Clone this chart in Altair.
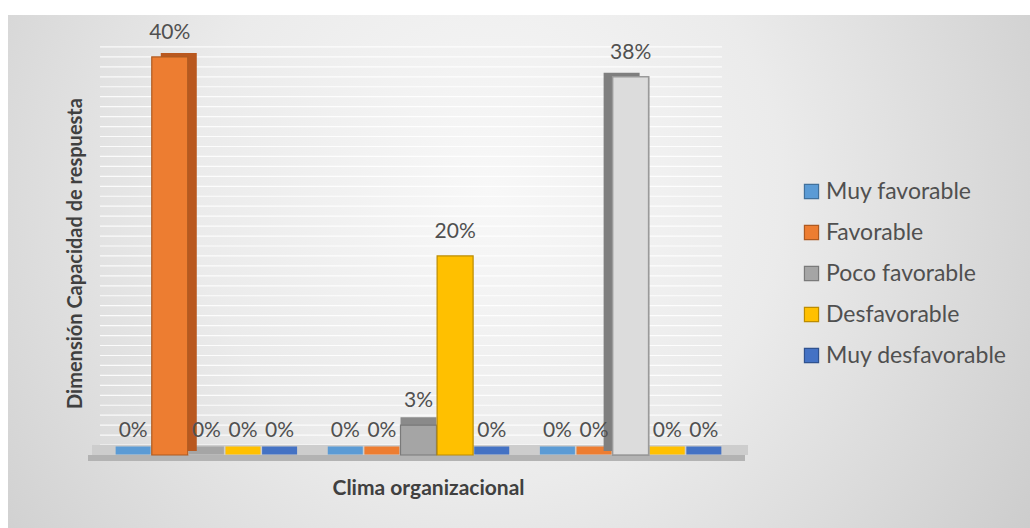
import altair as alt
import pandas as pd

# ---- data ----
grupos = ["1", "2", "3"]
series = ["Muy favorable", "Favorable", "Poco favorable", "Desfavorable", "Muy desfavorable"]
muy_favorable = [0.00, 0.00, 0.00]
favorable = [0.40, 0.00, 0.00]
poco_favorable = [0.00, 0.03, 0.38]
desfavorable = [0.00, 0.20, 0.00]
muy_desfavorable = [0.00, 0.00, 0.00]
lineas_guia = [i / 100 for i in range(1, 42)]

colores = ["#5B9BD5", "#ED7D31", "#A5A5A5", "#FFC000", "#4472C4"]
bordes = ["#41719C", "#AE5A21", "#7A7A7A", "#BC8C00", "#2F528F"]

valores = [muy_favorable, favorable, poco_favorable, desfavorable, muy_desfavorable]
rows = []
for s, vals in zip(series, valores):
    for g, v in zip(grupos, vals):
        rows.append({"grupo": g, "serie": s, "valor": v})
df = pd.DataFrame(rows)

W, H = 637, 418
FONT = "Lato"
TXT = "#505050"

x_scale = alt.Scale(paddingInner=0.137, paddingOuter=0.07)
x_enc = alt.X("grupo:N", sort=grupos, scale=x_scale,
              axis=alt.Axis(labels=False, ticks=False, domain=False, grid=False,
                            title="Clima organizacional", titleFont=FONT,
                            titleFontSize=21, titleFontWeight="bold", titleColor="#404040",
                            titleX=328, titleAlign="center",
                            titleY=22, titleBaseline="top", zindex=1))
xo_enc = alt.XOffset("serie:N", sort=series, scale=alt.Scale(paddingInner=0, paddingOuter=0))
y_scale = alt.Scale(domain=[0, 0.42], nice=False)
y_axis = alt.Axis(labels=False, ticks=False, domain=False, grid=False,
                  title="Dimensión Capacidad de respuesta",
                  titleFont=FONT, titleFontSize=20, titleFontWeight="bold",
                  titleColor="#404040", titleAngle=270, titleX=-25, titleY=216,
                  titleAlign="center", titleBaseline="middle", zindex=1)

color_enc = alt.Color("serie:N", sort=series, scale=alt.Scale(domain=series, range=colores),
                      legend=alt.Legend(title=None, orient="none", legendX=700, legendY=143,
                                        symbolType="square", symbolSize=200,
                                        symbolStrokeWidth=1.2, labelFont=FONT,
                                        labelFontSize=23, labelColor=TXT, labelLimit=400,
                                        rowPadding=17, labelOffset=3, zindex=2))
stroke_enc = alt.Stroke("serie:N", sort=series, scale=alt.Scale(domain=series, range=bordes),
                        legend=None)

base = alt.Chart(df)

# background (decorative)
bg = alt.Chart(pd.DataFrame({"k": [0]})).mark_rect(
    fill=alt.RadialGradient(gradient="radial",
                            stops=[alt.GradientStop(color="#f8f8f8", offset=0),
                                   alt.GradientStop(color="#ebebeb", offset=0.4),
                                   alt.GradientStop(color="#c4c4c4", offset=1)],
                            x1=0.47, y1=0.42, x2=0.47, y2=0.42, r1=0, r2=0.72)
).encode(x=alt.value(-92), x2=alt.value(930), y=alt.value(-22), y2=alt.value(491))

# white guide lines every 1%
grid = alt.Chart(pd.DataFrame({"g": lineas_guia})).mark_rule(
    color="#ffffff", strokeWidth=1.2, opacity=0.85).encode(
    y=alt.Y("g:Q", scale=y_scale, axis=y_axis),
    x=alt.value(0), x2=alt.value(622))

# floor (decorative)
floor_top = alt.Chart(pd.DataFrame({"k": [0]})).mark_rect(color="#cdcdcd").encode(
    x=alt.value(-8), x2=alt.value(648), y=alt.value(H - 10), y2=alt.value(H))
floor_front = alt.Chart(pd.DataFrame({"k": [0]})).mark_rect(color="#b3b3b3").encode(
    x=alt.value(-12), x2=alt.value(645), y=alt.value(H), y2=alt.value(H + 6))

tiles = base.mark_tick(thickness=8, size=35, yOffset=-4.5, opacity=1).encode(
    x=x_enc, xOffset=xo_enc, y=alt.Y("zero:Q", scale=y_scale, axis=y_axis),
    color=color_enc
).transform_calculate(zero="0")

nz = base.transform_filter("datum.valor > 0")

side_right = nz.transform_filter("datum.grupo == '1'").mark_bar(
    color="#B9581F", xOffset=-27.6, yOffset=-4, size=36).encode(
    x=x_enc, y=alt.Y("valor:Q", scale=y_scale, axis=y_axis))
side_left = nz.transform_filter("datum.grupo == '3'").mark_bar(
    color="#7f7f7f", xOffset=-9, yOffset=-4, size=36).encode(
    x=x_enc, y=alt.Y("valor:Q", scale=y_scale, axis=y_axis))
top_small = nz.transform_filter("datum.grupo == '2' && datum.serie == 'Poco favorable'").mark_bar(
    color="#8a8a8a", yOffset=-8, size=36).encode(
    x=x_enc, xOffset=xo_enc, y=alt.Y("valor:Q", scale=y_scale, axis=y_axis))

bars = nz.mark_bar(strokeWidth=1.2, size=36).encode(
    x=x_enc, xOffset=xo_enc, y=alt.Y("valor:Q", scale=y_scale, axis=y_axis),
    color=color_enc, stroke=stroke_enc)

light = nz.transform_filter("datum.grupo == '3'").mark_bar(
    color="#dcdcdc", stroke="#9a9a9a", strokeWidth=1.5, size=36).encode(
    x=x_enc, xOffset=xo_enc, y=alt.Y("valor:Q", scale=y_scale, axis=y_axis))

labels = base.mark_text(font=FONT, fontSize=21, color=TXT, dy=-24, baseline="middle").encode(
    x=x_enc, xOffset=xo_enc, y=alt.Y("valor:Q", scale=y_scale, axis=y_axis),
    text=alt.Text("valor:Q", format=".0%"))

chart = alt.layer(bg, grid, floor_top, floor_front, tiles, side_right, side_left, top_small,
                  bars, light, labels).properties(
    width=W, height=H, autosize="none",
    padding={"left": 100, "top": 37, "right": 293, "bottom": 73},
    background="#ffffff"
).configure_view(stroke=None)

chart.save("out.html", embed_options={"renderer": "svg", "actions": False})
